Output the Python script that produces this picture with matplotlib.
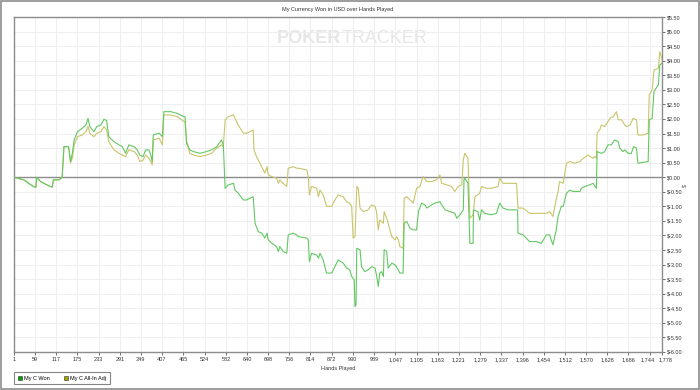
import matplotlib
matplotlib.use("Agg")
import matplotlib.pyplot as plt
from matplotlib.lines import Line2D
from matplotlib.patches import Rectangle
from matplotlib.transforms import ScaledTranslation

plt.rcParams['font.family'] = ['Liberation Sans', 'DejaVu Sans']

# hands played / cumulative winnings ($)
won_hands = [1, 28, 47, 58, 61, 63, 74, 97, 106, 109, 124, 133, 138, 150, 152, 156, 161, 166,
             175, 188, 198, 204, 209, 220, 228, 239, 248, 255, 261, 275, 289, 298, 307, 316,
             330, 339, 346, 355, 362, 371, 376, 380, 383, 399, 408, 412, 431, 449, 467, 470,
             474, 483, 493, 511, 529, 543, 557, 570, 575, 580, 589, 603, 607, 616, 630, 639,
             648, 657, 662, 671, 680, 689, 695, 698, 708, 721, 726, 730, 739, 749, 753, 767,
             776, 781, 804, 808, 811, 817, 831, 836, 840, 849, 858, 872, 881, 890, 904, 913,
             922, 927, 934, 936, 939, 941, 950, 954, 963, 972, 982, 991, 995, 1000, 1004,
             1009, 1014, 1016, 1023, 1027, 1037, 1046, 1055, 1059, 1068, 1071, 1078, 1087,
             1096, 1105, 1110, 1119, 1128, 1133, 1146, 1155, 1169, 1174, 1183, 1196, 1210,
             1215, 1224, 1233, 1235, 1237, 1246, 1251, 1260, 1261, 1273, 1278, 1283, 1292,
             1310, 1324, 1333, 1342, 1356, 1369, 1382, 1383, 1397, 1415, 1433, 1447, 1461,
             1470, 1474, 1479, 1488, 1493, 1502, 1507, 1516, 1525, 1534, 1553, 1557, 1566,
             1580, 1589, 1598, 1600, 1612, 1621, 1630, 1639, 1648, 1658, 1662, 1671, 1676,
             1685, 1694, 1700, 1708, 1712, 1726, 1740, 1743, 1751, 1756, 1768, 1772, 1778]
won_values = [0.0, -0.09, -0.26, -0.34, -0.34, 0.0, -0.15, -0.30, -0.34, -0.09, -0.09, -0.01,
              1.05, 1.05, 0.94, 0.54, 0.82, 1.28, 1.56, 1.68, 1.79, 2.02, 1.74, 1.56, 1.74,
              1.79, 1.99, 1.94, 1.39, 1.22, 1.11, 1.05, 0.82, 1.11, 1.05, 0.94, 0.76, 0.71,
              0.94, 0.94, 0.76, 0.54, 1.45, 1.51, 1.39, 2.25, 2.25, 2.19, 2.08, 2.08, 1.17,
              0.94, 0.88, 0.82, 0.88, 0.94, 1.05, 1.28, 1.11, -0.38, -0.26, -0.21, -0.44,
              -0.55, -0.78, -0.78, -0.72, -0.67, -1.58, -1.87, -1.92, -2.09, -1.92, -2.15,
              -2.27, -2.38, -2.55, -2.38, -2.55, -2.61, -1.98, -1.92, -1.98, -2.04, -2.09,
              -2.15, -2.90, -2.61, -2.67, -2.78, -2.61, -2.84, -3.29, -3.29, -3.07, -2.84,
              -2.95, -3.12, -3.18, -3.41, -3.52, -4.44, -4.38, -2.44, -2.49, -3.07, -3.24,
              -3.18, -3.07, -3.12, -3.35, -3.75, -3.29, -3.24, -3.41, -2.49, -2.55, -3.12,
              -2.95, -3.01, -3.18, -3.29, -3.29, -1.58, -1.52, -1.75, -1.81, -1.81, -1.18,
              -0.89, -0.95, -1.06, -0.95, -0.89, -0.84, -0.95, -1.12, -1.18, -1.24, -1.41,
              -1.29, -1.12, -0.09, -0.03, -0.21, -2.27, -2.27, -1.12, -1.18, -1.47, -1.12,
              -1.24, -1.29, -1.24, -0.89, -1.06, -1.12, -1.12, -1.12, -1.92, -1.98, -2.21,
              -2.21, -2.27, -1.98, -1.98, -2.15, -2.32, -1.81, -1.35, -1.00, -1.00, -0.55,
              -0.44, -0.49, -0.49, -0.38, -0.32, -0.26, -0.21, -0.38, 0.88, 0.82, 0.88, 1.11,
              1.11, 1.28, 1.22, 1.00, 0.88, 0.94, 0.82, 0.82, 1.05, 1.00, 0.48, 0.51, 0.54,
              1.97, 2.02, 2.94, 3.17, 3.85, 3.92]

adj_hands = [1, 28, 47, 58, 61, 63, 74, 97, 106, 109, 124, 133, 138, 150, 152, 156, 161, 166,
             175, 188, 198, 204, 209, 220, 228, 239, 248, 255, 261, 275, 289, 298, 307, 316,
             330, 339, 346, 355, 362, 371, 376, 380, 383, 399, 408, 412, 429, 449, 467, 470,
             474, 483, 493, 511, 529, 543, 557, 570, 575, 580, 589, 603, 607, 616, 630, 639,
             648, 657, 659, 666, 680, 689, 695, 698, 708, 721, 726, 730, 739, 749, 753, 767,
             776, 781, 804, 808, 811, 817, 831, 836, 840, 849, 858, 872, 881, 890, 904, 913,
             922, 927, 931, 936, 941, 945, 950, 959, 972, 982, 991, 995, 1000, 1004, 1014,
             1016, 1023, 1027, 1037, 1046, 1050, 1055, 1059, 1068, 1071, 1078, 1087, 1096,
             1105, 1114, 1123, 1133, 1146, 1160, 1169, 1174, 1187, 1201, 1210, 1219, 1229,
             1233, 1237, 1246, 1251, 1260, 1265, 1278, 1283, 1297, 1310, 1328, 1333, 1342,
             1356, 1379, 1383, 1397, 1415, 1461, 1470, 1479, 1484, 1493, 1497, 1507, 1516,
             1525, 1539, 1553, 1562, 1575, 1589, 1594, 1598, 1600, 1607, 1612, 1621, 1630,
             1635, 1644, 1653, 1658, 1667, 1676, 1681, 1690, 1699, 1708, 1712, 1726, 1740,
             1743, 1751, 1756, 1768, 1772, 1778]
adj_values = [0.0, -0.09, -0.26, -0.34, -0.34, 0.0, -0.15, -0.30, -0.34, -0.09, -0.09, -0.01,
              1.05, 1.05, 0.94, 0.49, 0.66, 1.11, 1.39, 1.45, 1.56, 1.74, 1.51, 1.39, 1.51,
              1.56, 1.74, 1.62, 1.22, 0.94, 0.82, 0.76, 0.71, 0.94, 0.88, 0.76, 0.54, 0.59,
              0.76, 0.65, 0.54, 0.42, 1.28, 1.34, 1.11, 2.14, 2.14, 2.08, 1.91, 1.91, 1.28,
              0.82, 0.76, 0.71, 0.76, 0.82, 1.00, 1.11, 1.05, 1.97, 2.08, 2.14, 2.02, 1.79,
              1.51, 1.51, 1.56, 1.62, 0.94, 0.71, 0.36, 0.14, 0.36, 0.08, 0.02, -0.03, -0.21,
              -0.09, -0.21, -0.32, 0.31, 0.36, 0.31, 0.31, 0.25, 0.02, -0.61, -0.32, -0.38,
              -0.67, -0.44, -0.61, -1.00, -1.00, -0.78, -0.61, -0.67, -0.84, -0.89, -1.00,
              -2.09, -2.04, -0.32, -0.38, -1.06, -1.18, -1.12, -0.95, -1.00, -1.18, -1.81,
              -1.47, -1.58, -1.18, -1.41, -1.58, -2.04, -2.15, -2.04, -2.15, -2.38, -2.44,
              -0.72, -0.67, -0.78, -0.89, -0.38, -0.32, 0.02, -0.15, -0.15, -0.09, 0.08,
              -0.21, -0.26, -0.32, -0.49, -0.32, -0.26, 0.59, 0.82, 0.65, -1.41, -1.29,
              -0.67, -0.55, -0.32, -0.38, -0.38, -0.32, -0.03, -0.21, -0.21, -0.21, -1.06,
              -1.06, -1.24, -1.24, -1.18, -1.35, -1.00, -0.49, -0.15, -0.21, 0.48, 0.54,
              0.48, 0.54, 0.65, 0.76, 0.65, 0.71, 0.65, 1.51, 1.62, 1.79, 1.74, 1.91, 2.02,
              2.08, 2.25, 1.97, 1.97, 1.79, 1.74, 1.79, 2.02, 1.97, 1.45, 1.45, 1.51, 2.82,
              3.00, 3.68, 3.74, 4.31, 4.03]

x_ticks = [1, 59, 117, 175, 233, 291, 349, 407, 465, 524, 582, 640, 698, 756, 814, 872, 930,
           989, 1047, 1105, 1163, 1221, 1279, 1337, 1396, 1454, 1512, 1570, 1628, 1686, 1744, 1778]
y_ticks = [5.5 - 0.5 * i for i in range(24)]

fig = plt.figure(figsize=(7, 3.9), dpi=100)
ax = fig.add_axes([14 / 700, 1 - 352 / 390, 648 / 700, 335 / 390])

ax.plot(adj_hands, adj_values, color='#c9c46a', lw=0.8, zorder=3)
ax.plot(won_hands, won_values, color='#62c862', lw=0.8, zorder=4)
ax.axhline(0, color='#8c8c8c', lw=1, zorder=2)

ax.set_xlim(1, 1778)
ax.set_ylim(-6.0, 5.5)
ax.set_xticks(x_ticks)
ax.set_xticklabels(['{:,}'.format(t) for t in x_ticks])
ax.set_yticks(y_ticks)
ax.set_yticklabels(['$%.2f' % v for v in y_ticks])
ax.yaxis.tick_right()
ax.tick_params(axis='both', labelsize=4, length=2, width=0.6, color='#555555',
               labelcolor='#333333', pad=1.5)
ax.grid(True, color='#eeeeee', lw=0.7, zorder=0)
for s in ax.spines.values():
    s.set_color('#8c8c8c')
    s.set_linewidth(1)

# last two x labels sit side by side in the original
xlabels = ax.get_xticklabels()
xlabels[-2].set_transform(xlabels[-2].get_transform()
                          + ScaledTranslation(-1.5 / 100, 0, fig.dpi_scale_trans))
xlabels[-1].set_transform(xlabels[-1].get_transform()
                          + ScaledTranslation(4 / 100, 0, fig.dpi_scale_trans))

ax.set_xlabel('Hands Played', fontsize=4, color='#333333', labelpad=3)
fig.text(338 / 700, 1 - 9 / 390, 'My Currency Won in USD over Hands Played', fontsize=4,
         color='#333333', ha='center', va='center')
fig.text(683 / 700, 1 - 185 / 390, '$', fontsize=4, color='#555555', rotation=-90,
         ha='center', va='center')

# watermark
ax.text(0.505, 0.937, 'POKER', transform=ax.transAxes, fontsize=13, fontweight='bold',
        color='#e6e6e6', ha='right', va='center', zorder=1)
ax.text(0.505, 0.937, 'TRACKER', transform=ax.transAxes, fontsize=13,
        color='#e6e6e6', ha='left', va='center', zorder=1)

handles = [Line2D([], [], ls='none', marker='s', markersize=3, markerfacecolor='#00a000',
                  markeredgecolor='#333333', markeredgewidth=0.4),
           Line2D([], [], ls='none', marker='s', markersize=3, markerfacecolor='#a0a000',
                  markeredgecolor='#333333', markeredgewidth=0.4)]
leg = fig.legend(handles, ['My C Won', 'My C All-In Adj'], loc='lower left',
                 bbox_to_anchor=(14 / 700, 1 - 384 / 390), ncol=2, fontsize=4,
                 frameon=True, fancybox=False, edgecolor='#666666', handlelength=0.8,
                 handletextpad=0.4, columnspacing=2.5, borderpad=0.6, borderaxespad=0)
leg.get_frame().set_linewidth(0.8)

fig.patches.append(Rectangle((0.001, 0.002), 0.997, 0.995, transform=fig.transFigure,
                             fill=False, edgecolor='#8c8c8c', lw=1.2))

fig.savefig('out.png', dpi=100)
